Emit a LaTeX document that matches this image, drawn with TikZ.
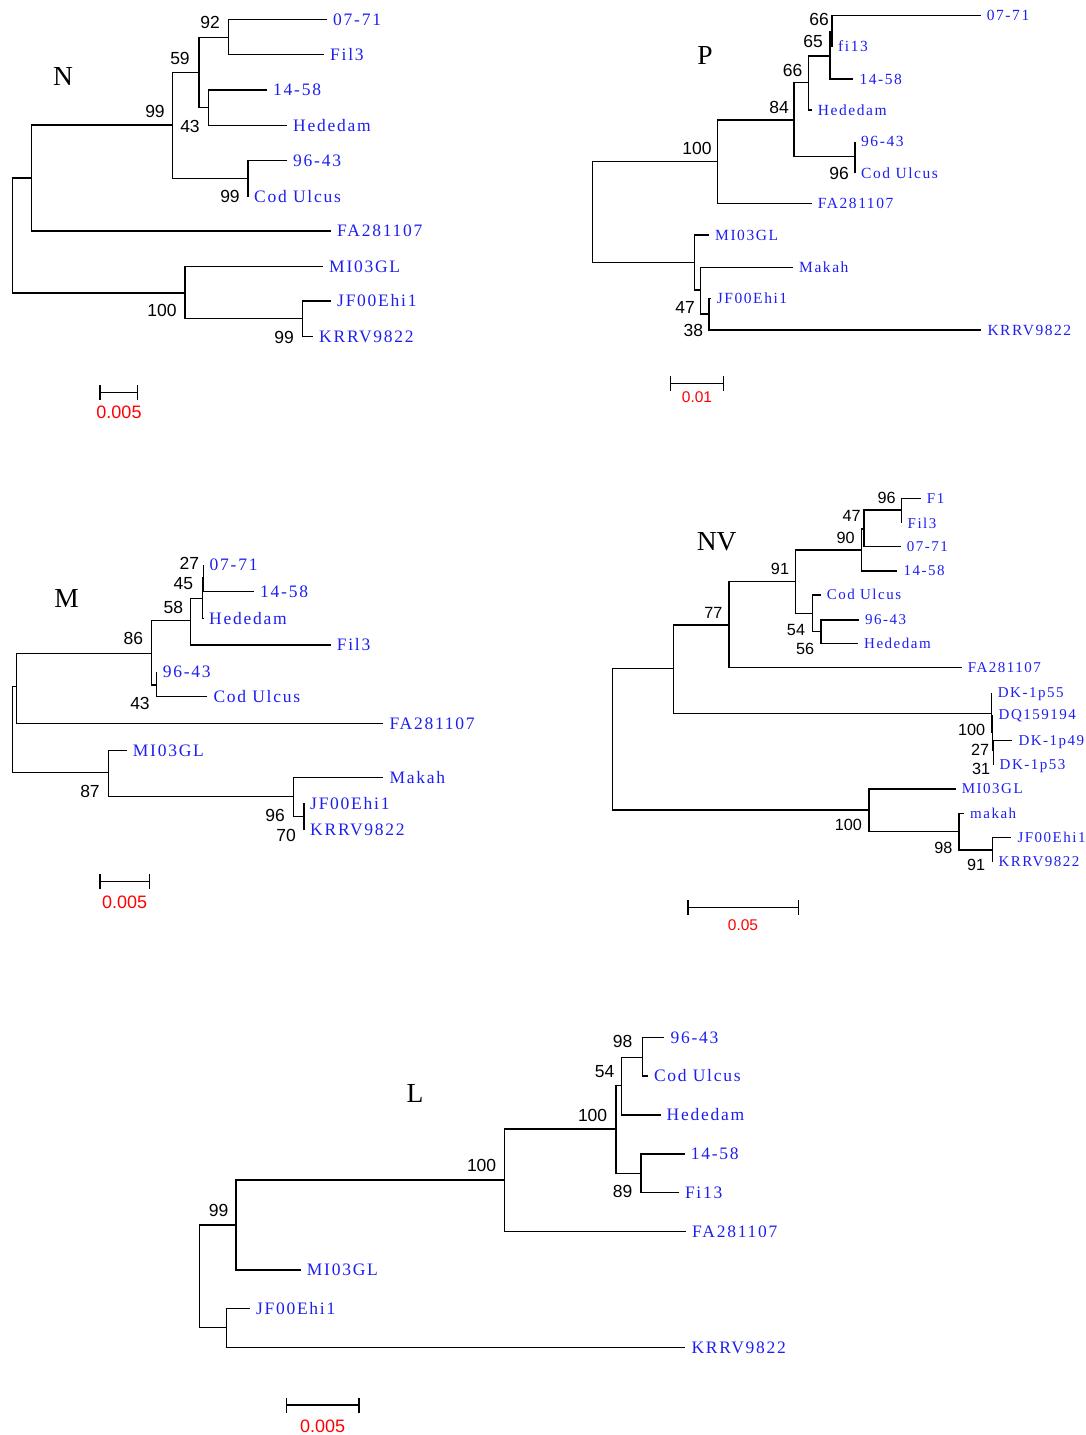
\documentclass[tikz,border=0pt]{standalone}
\usepackage{fontspec}
\setmainfont{Liberation Serif}
\setsansfont{Liberation Sans}
\usetikzlibrary{arrows.meta}
\definecolor{leafblue}{RGB}{30,30,240}
\tikzset{
  branch/.style={line width=1.4pt},
  leaf/.style={anchor=west, inner xsep=6pt, inner ysep=0pt, text=leafblue,
    font=\fontsize{#1}{#1}\selectfont\addfontfeature{LetterSpace=10},
    text height=#1*0.662pt, text depth=0pt},
  leaf/.default=17.5,
  boot/.style={inner sep=0pt, font=\sffamily\fontsize{#1}{#1}\selectfont,
    text height=#1*0.716pt, text depth=0pt},
  boot/.default=17.5,
  treename/.style={inner sep=0pt, font=\fontsize{27.5}{27.5}\selectfont},
  scalebar/.style={line width=1.4pt, {Bar[width=15pt]}-{Bar[width=15pt]}},
  scalelab/.style={boot=#1, text=red},
  scalelab/.default=18
}
\begin{document}
\begin{tikzpicture}[x=1pt,y=-1pt]
\useasboundingbox (0,0) rectangle (1086,1435);

% tree N
\node[treename] (tN) at (63,76.7) {N};
\coordinate (N0) at (12.7,235);
\coordinate (NA) at (31.7,178);
\coordinate (NB) at (172.3,125);
\coordinate (NC) at (199,72.7);
\coordinate (NF) at (228.3,37.3);
\coordinate (ND) at (208.3,107.7);
\coordinate (NE) at (248,178.3);
\coordinate (NG) at (185,293);
\coordinate (NH) at (302.3,318.7);
\node[leaf] (N0771) at (327,19.3) {07-71};
\node[leaf] (NFil) at (324,54.3) {Fil3};
\node[leaf] (N1458) at (267,90) {14-58};
\node[leaf] (NHed) at (287,125.3) {Hededam};
\node[leaf] (N9643) at (287,160.7) {96-43};
\node[leaf] (NCod) at (248,196.7) {Cod Ulcus};
\node[leaf] (NFA) at (331,231) {FA281107};
\node[leaf] (NMI) at (323,266.7) {MI03GL};
\node[leaf] (NJF) at (331,301) {JF00Ehi1};
\node[leaf] (NKR) at (313,336.7) {KRRV9822};
\draw[branch] (N0) |- (NA) (N0) |- (NG)
  (NA) |- (NB) (NA) |- (NFA)
  (NB) |- (NC) (NB) |- (NE)
  (NC) |- (NF) (NC) |- (ND)
  (NF) |- (N0771) (NF) |- (NFil)
  (ND) |- (N1458) (ND) |- (NHed)
  (NE) |- (N9643) (NE) |- (NCod)
  (NG) |- (NMI) (NG) |- (NH)
  (NH) |- (NJF) (NH) |- (NKR);
\node[boot] (bN1) at (210,22.7) {92};
\node[boot] (bN2) at (180,58) {59};
\node[boot] (bN3) at (155,111) {99};
\node[boot] (bN4) at (190,126) {43};
\node[boot] (bN5) at (230,196.7) {99};
\node[boot] (bN6) at (162,310) {100};
\node[boot] (bN7) at (284,337.7) {99};
\coordinate (sNa) at (99.3,392.7);
\coordinate (sNb) at (138.3,392.7);
\draw[scalebar] (sNa) -- (sNb);
\node[scalelab] (sNl) at (119,412) {0.005};

% tree P
\node[treename] (tP) at (705,55) {P};
\coordinate (P0) at (592.7,212);
\coordinate (P1) at (717.7,161.7);
\coordinate (P2) at (794,120);
\coordinate (P3) at (808.7,82.7);
\coordinate (P5) at (830,56);
\coordinate (P6) at (832,31.7);
\coordinate (P4) at (855,156.7);
\coordinate (P7) at (694.3,262.7);
\coordinate (P8) at (700.7,290);
\coordinate (P9) at (709,314);
\node[leaf=15.5] (P0771) at (980.7,15.7) {07-71};
\node[leaf=15.5] (Pfi) at (832,46.7) {fi13};
\node[leaf=15.5] (P1458) at (853.3,79) {14-58};
\node[leaf=15.5] (PHed) at (811.7,110) {Hededam};
\node[leaf=15.5] (P9643) at (855,141.7) {96-43};
\node[leaf=15.5] (PCod) at (855,173.3) {Cod Ulcus};
\node[leaf=15.5] (PFA) at (811.7,203.3) {FA281107};
\node[leaf=15.5] (PMI) at (709,235) {MI03GL};
\node[leaf=15.5] (PMak) at (793,267.3) {Makah};
\node[leaf=15.5] (PJF) at (710.7,298.3) {JF00Ehi1};
\node[leaf=15.5] (PKR) at (981.3,330) {KRRV9822};
\draw[branch] (P0) |- (P1) (P0) |- (P7)
  (P1) |- (P2) (P1) |- (PFA)
  (P2) |- (P3) (P2) |- (P4)
  (P3) |- (P5) (P3) |- (PHed)
  (P5) |- (P6) (P5) |- (P1458)
  (P6) |- (P0771) (P6) |- (Pfi)
  (P4) |- (P9643) (P4) |- (PCod)
  (P7) |- (PMI) (P7) |- (P8)
  (P8) |- (PMak) (P8) |- (P9)
  (P9) |- (PJF) (P9) |- (PKR);
\node[boot] (bP1) at (819,19) {66};
\node[boot] (bP2) at (813,41.7) {65};
\node[boot] (bP3) at (792.7,70) {66};
\node[boot] (bP4) at (779,107) {84};
\node[boot] (bP5) at (697,148) {100};
\node[boot] (bP6) at (839,173) {96};
\node[boot] (bP7) at (685,307.7) {47};
\node[boot] (bP8) at (693.3,330) {38};
\coordinate (sPa) at (670,383.3);
\coordinate (sPb) at (724,383.3);
\draw[scalebar] (sPa) -- (sPb);
\node[scalelab=15.5] (sPl) at (697,397.3) {0.01};

% tree M
\node[treename] (tM) at (66.7,598.3) {M};
\coordinate (M0) at (12.7,729.7);
\coordinate (M1) at (16.7,686.7);
\coordinate (M2) at (151.7,653.3);
\coordinate (M3) at (190.7,620.7);
\coordinate (M5) at (202.7,598.3);
\coordinate (M6) at (203.5,578);
\coordinate (M4) at (156.7,685);
\coordinate (M7) at (108.3,772.7);
\coordinate (M8) at (293.3,796.7);
\coordinate (M9) at (304,816.7);
\node[leaf] (M0771) at (203.5,565) {07-71};
\node[leaf] (M1458) at (254,591.7) {14-58};
\node[leaf] (MHed) at (203,618.3) {Hededam};
\node[leaf] (MFil) at (330.7,645) {Fil3};
\node[leaf] (M9643) at (156.7,671.7) {96-43};
\node[leaf] (MCod) at (207.3,696.7) {Cod Ulcus};
\node[leaf] (MFA) at (383.3,723.3) {FA281107};
\node[leaf] (MMI) at (126.7,750.7) {MI03GL};
\node[leaf] (MMak) at (383.3,777.3) {Makah};
\node[leaf] (MJF) at (304,803.3) {JF00Ehi1};
\node[leaf] (MKR) at (304,830) {KRRV9822};
\draw[branch] (M0) |- (M1) (M0) |- (M7)
  (M1) |- (M2) (M1) |- (MFA)
  (M2) |- (M3) (M2) |- (M4)
  (M3) |- (M5) (M3) |- (MFil)
  (M5) |- (M6) (M5) |- (MHed)
  (M6) |- (M0771) (M6) |- (M1458)
  (M4) |- (M9643) (M4) |- (MCod)
  (M7) |- (MMI) (M7) |- (M8)
  (M8) |- (MMak) (M8) |- (M9)
  (M9) |- (MJF) (M9) |- (MKR);
\node[boot] (bM1) at (189.3,563.3) {27};
\node[boot] (bM2) at (183.3,583.3) {45};
\node[boot] (bM3) at (173.3,607.3) {58};
\node[boot] (bM4) at (133.3,638.3) {86};
\node[boot] (bM5) at (140,703.3) {43};
\node[boot] (bM6) at (90,791.7) {87};
\node[boot] (bM7) at (275,815) {96};
\node[boot] (bM8) at (286,835) {70};
\coordinate (sMa) at (99.3,881.7);
\coordinate (sMb) at (150,881.7);
\draw[scalebar] (sMa) -- (sMb);
\node[scalelab] (sMl) at (124.7,901.7) {0.005};

% tree NV
\node[treename] (tV) at (716.7,541.7) {NV};
\coordinate (V0) at (612.7,739);
\coordinate (V1) at (673.3,668.3);
\coordinate (V2) at (729,625);
\coordinate (V4) at (795.7,581.7);
\coordinate (V5) at (861.5,550);
\coordinate (V7) at (864,529);
\coordinate (V8) at (901.5,510);
\coordinate (V6) at (812.3,613.3);
\coordinate (V9) at (821,631.7);
\coordinate (V3) at (991.7,713.3);
\coordinate (V3a) at (992.5,732);
\coordinate (V3b) at (993.5,750);
\coordinate (V10) at (869,810);
\coordinate (V11) at (959,831.7);
\coordinate (V12) at (992.3,850);
\node[leaf=15] (VF1) at (920.7,498.3) {F1};
\node[leaf=15] (VFil) at (901.5,523.3) {Fil3};
\node[leaf=15] (V0771) at (900.7,546.7) {07-71};
\node[leaf=15] (V1458) at (897.3,571) {14-58};
\node[leaf=15] (VCod) at (820.7,595) {Cod Ulcus};
\node[leaf=15] (V9643) at (859,620) {96-43};
\node[leaf=15] (VHed) at (858,643.3) {Hededam};
\node[leaf=15] (VFA) at (961.7,667.7) {FA281107};
\node[leaf=15] (VD55) at (991.7,692.7) {DK-1p55};
\node[leaf=15] (VDQ) at (992.5,715) {DQ159194};
\node[leaf=15] (VD49) at (1012.3,740.7) {DK-1p49};
\node[leaf=15] (VD53) at (993.5,765) {DK-1p53};
\node[leaf=15] (VMI) at (955.7,789) {MI03GL};
\node[leaf=15] (Vmak) at (964,813.3) {makah};
\node[leaf=15] (VJF) at (1011.3,837.7) {JF00Ehi1};
\node[leaf=15] (VKR) at (992.3,861.7) {KRRV9822};
\draw[branch] (V0) |- (V1) (V0) |- (V10)
  (V1) |- (V2) (V1) |- (V3)
  (V2) |- (V4) (V2) |- (VFA)
  (V4) |- (V5) (V4) |- (V6)
  (V5) |- (V7) (V5) |- (V1458)
  (V7) |- (V8) (V7) |- (V0771)
  (V8) |- (VF1) (V8) |- (VFil)
  (V6) |- (VCod) (V6) |- (V9)
  (V9) |- (V9643) (V9) |- (VHed)
  (V3) |- (VD55) (V3) |- (V3a)
  (V3a) |- (VDQ) (V3a) |- (V3b)
  (V3b) |- (VD49) (V3b) |- (VD53)
  (V10) |- (VMI) (V10) |- (V11)
  (V11) |- (Vmak) (V11) |- (V12)
  (V12) |- (VJF) (V12) |- (VKR);
\node[boot=16.2] (bV1) at (886.7,497.7) {96};
\node[boot=16.2] (bV2) at (851.7,515.7) {47};
\node[boot=16.2] (bV3) at (845.7,537.3) {90};
\node[boot=16.2] (bV4) at (780,568.3) {91};
\node[boot=16.2] (bV5) at (713.3,612.7) {77};
\node[boot=16.2] (bV6) at (796,630) {54};
\node[boot=16.2] (bV7) at (805,648.3) {56};
\node[boot=16.2] (bV8) at (971.7,730) {100};
\node[boot=16.2] (bV9) at (980,750) {27};
\node[boot=16.2] (bV10) at (981,768.3) {31};
\node[boot=16.2] (bV11) at (848.3,825) {100};
\node[boot=16.2] (bV12) at (943.3,847.7) {98};
\node[boot=16.2] (bV13) at (976,865) {91};
\coordinate (sVa) at (687.3,907.3);
\coordinate (sVb) at (799,907.3);
\draw[scalebar] (sVa) -- (sVb);
\node[scalelab=15.5] (sVl) at (743,925) {0.05};

% tree L
\node[treename] (tL) at (415,1093) {L};
\coordinate (L0) at (199.6,1276);
\coordinate (L1) at (235.9,1225);
\coordinate (L2) at (504.6,1180);
\coordinate (L3) at (616,1129);
\coordinate (L4) at (621.7,1085.7);
\coordinate (L6) at (642.7,1057.3);
\coordinate (L5) at (640.8,1173.3);
\coordinate (L7) at (226.4,1327.7);
\node[leaf] (L9643) at (664.3,1037.3) {96-43};
\node[leaf] (LCod) at (647.8,1076) {Cod Ulcus};
\node[leaf] (LHed) at (660.5,1115) {Hededam};
\node[leaf] (L1458) at (684.6,1154) {14-58};
\node[leaf] (LFi) at (678.8,1192.3) {Fi13};
\node[leaf] (LFA) at (686,1231.7) {FA281107};
\node[leaf] (LMI) at (300.7,1270) {MI03GL};
\node[leaf] (LJF) at (249.8,1308.3) {JF00Ehi1};
\node[leaf] (LKR) at (685.3,1347.7) {KRRV9822};
\draw[branch] (L0) |- (L1) (L0) |- (L7)
  (L1) |- (L2) (L1) |- (LMI)
  (L2) |- (L3) (L2) |- (LFA)
  (L3) |- (L4) (L3) |- (L5)
  (L4) |- (L6) (L4) |- (LHed)
  (L6) |- (L9643) (L6) |- (LCod)
  (L5) |- (L1458) (L5) |- (LFi)
  (L7) |- (LJF) (L7) |- (LKR);
\node[boot] (bL1) at (622.5,1041.7) {98};
\node[boot] (bL2) at (604.5,1071) {54};
\node[boot] (bL3) at (592.6,1115) {100};
\node[boot] (bL4) at (622.5,1191.7) {89};
\node[boot] (bL5) at (481.6,1165.7) {100};
\node[boot] (bL6) at (218.7,1210) {99};
\coordinate (sLa) at (285.7,1405);
\coordinate (sLb) at (359.5,1405);
\draw[scalebar] (sLa) -- (sLb);
\node[scalelab] (sLl) at (322.6,1426) {0.005};
\end{tikzpicture}
\end{document}
